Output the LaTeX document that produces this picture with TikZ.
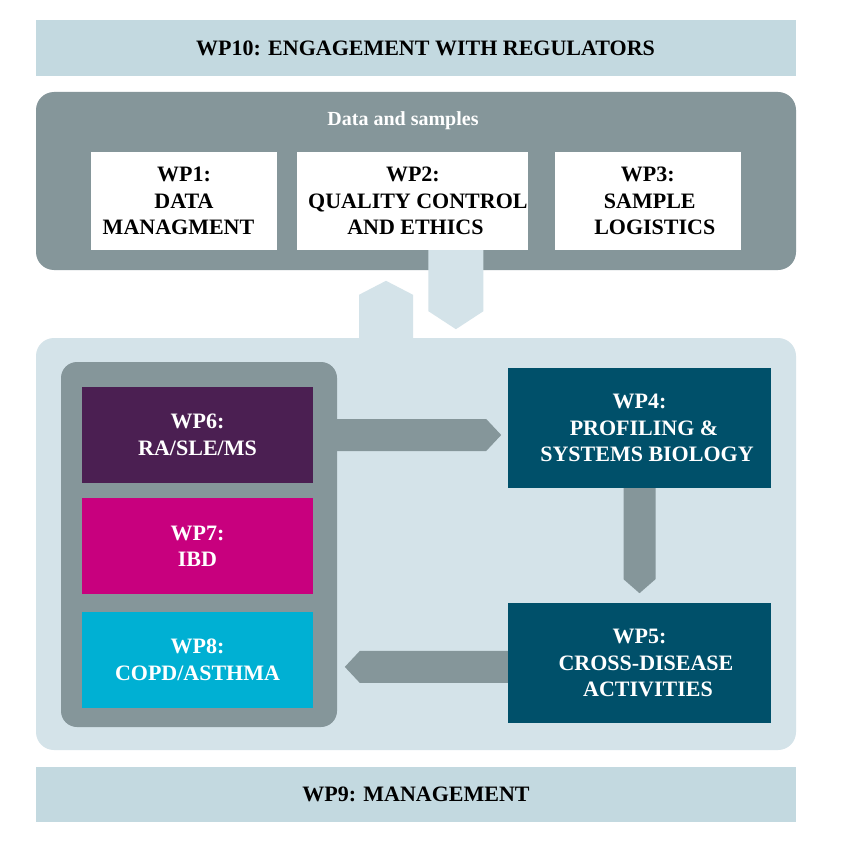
\documentclass[tikz,border=0pt]{standalone}
\usepackage{fontspec}
\setmainfont{Liberation Serif}
\usepackage{xcolor}
\usetikzlibrary{positioning}
\definecolor{wpband}{HTML}{C3D9E0}
\definecolor{wpgray}{HTML}{85969A}
\definecolor{wplight}{HTML}{D4E3E9}
\definecolor{wpteal}{HTML}{00506A}
\definecolor{wpplum}{HTML}{4B1F52}
\definecolor{wpmagenta}{HTML}{C8007E}
\definecolor{wpcyan}{HTML}{00B0D3}
\def\wpf{\fontsize{22}{26.5}\selectfont\bfseries}
\def\sh#1{\hspace*{#1pt}}

\begin{document}
\begin{tikzpicture}[x=1pt,y=-1pt,every node/.style={align=center,inner sep=0pt,font=\wpf},
band/.style={fill=wpband,minimum width=760pt,minimum height=56pt},
wpbox/.style={fill=white,minimum width=186pt,minimum height=98pt},
dis/.style={fill=#1,text=white,minimum width=231pt,minimum height=96pt},
task/.style={fill=wpteal,text=white,minimum width=263pt,minimum height=120pt}]

\useasboundingbox[fill=white] (0,0) rectangle (845,853);

\node[band] (wp10) at (416,48) {\sh{19}WP10: ENGAGEMENT WITH REGULATORS};

% lower part
\node[fill=wplight,rounded corners=18pt,minimum width=760pt,minimum height=412pt] (lab) at (416,544) {};
\fill[wplight] (lab.north) ++(-57,1) -- ++(0,-44) -- ++(27,-14) -- ++(27,14) -- ++(0,44) -- cycle;

% data and samples
\node[fill=wpgray,rounded corners=18pt,minimum width=760pt,minimum height=178pt] (data) at (416,181) {};
\node[text=white,font=\fontsize{20}{24}\selectfont\bfseries] (dlab) at (403,121) {Data and samples};
\node[wpbox] (wp1) at (184,201) {WP1:\\DATA\\\sh{-11}MANAGMENT};
\node[wpbox,minimum width=231pt,right=20pt of wp1] (wp2) {WP2:\\\sh{10}QUALITY CONTROL\\\sh{5}AND ETHICS};
\node[wpbox,right=26pt of wp2] (wp3) {WP3:\\\sh{4}SAMPLE\\\sh{14}LOGISTICS};
\fill[wplight] (wp2.south) ++(15.5,0) -- ++(55,0) -- ++(0,61) -- ++(-27.5,18) -- ++(-27.5,-18) -- cycle;

% diseases
\node[fill=wpgray,rounded corners=16pt,minimum width=276pt,minimum height=365pt] (grp) at (199,544.5) {};
\node[dis=wpplum] (wp6) at (197.5,435) {WP6:\\RA/SLE/MS};
\node[dis=wpmagenta,below=15pt of wp6] (wp7) {WP7:\\IBD};
\node[dis=wpcyan,below=17pt of wp7] (wp8) {WP8:\\COPD/ASTHMA};

% tasks
\node[task] (wp4) at (639.5,428) {WP4:\\\sh{9}PROFILING \&\\\sh{15}SYSTEMS BIOLOGY};
\node[task,below=115pt of wp4] (wp5) {WP5:\\\sh{13}CROSS-DISEASE\\\sh{17}ACTIVITIES};

\fill[wpgray] (grp.east |- wp6.center) ++(0,-16) -- ++(149,0) -- ++(15,16) -- ++(-15,16) -- ++(-149,0) -- cycle;
\fill[wpgray] (wp4.south) ++(-16,0) -- ++(0,91) -- ++(16,14) -- ++(16,-14) -- ++(0,-91) -- cycle;
\fill[wpgray] (wp5.west) ++(0,-12.5) -- ++(-148,0) -- ++(-15,16) -- ++(15,16) -- ++(148,0) -- cycle;

\node[band,minimum height=55pt] (wp9) at (416,794.5) {WP9: MANAGEMENT};
\end{tikzpicture}
\end{document}
